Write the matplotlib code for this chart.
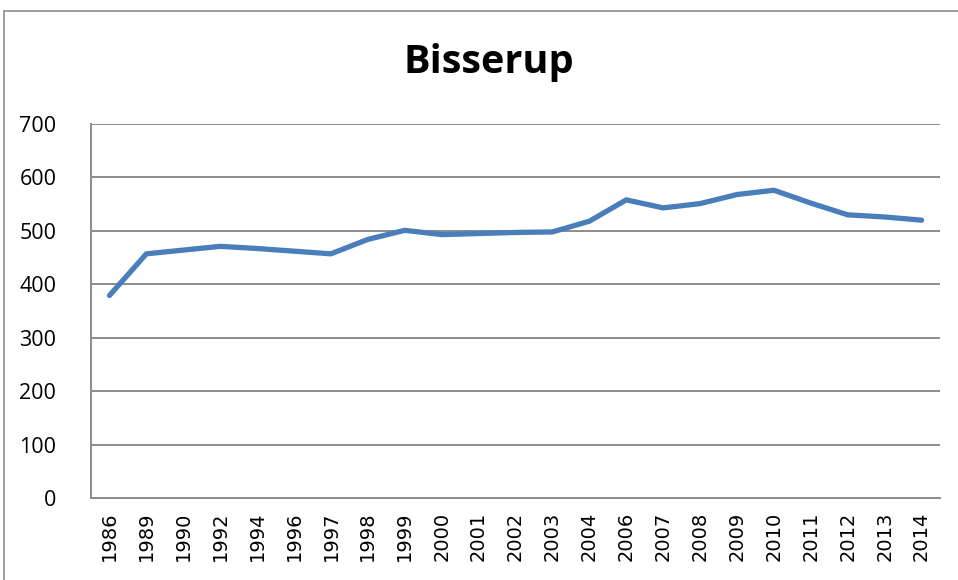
import matplotlib
matplotlib.use("Agg")
import matplotlib.pyplot as plt
from matplotlib.patches import Rectangle

years = ["1986", "1989", "1990", "1992", "1994", "1996", "1997", "1998", "1999",
         "2000", "2001", "2002", "2003", "2004", "2006", "2007", "2008", "2009",
         "2010", "2011", "2012", "2013", "2014"]
values = [379, 457, 464, 471, 467, 462, 457, 484, 501, 493, 495, 497, 498, 518,
          558, 543, 551, 568, 576, 552, 530, 526, 520]
yticks = [0, 100, 200, 300, 400, 500, 600, 700]
title = "Bisserup"

W, H = 958, 580
fig = plt.figure(figsize=(W / 100, H / 100), dpi=100)
fig.patch.set_facecolor("white")

# outer chart border
fig.patches.append(Rectangle((4 / W, -0.1), 1.2, 1 - 11 / H + 0.1,
                             transform=fig.transFigure, fill=False,
                             edgecolor="#8c8c8c", linewidth=1.2))

ax = fig.add_axes([91 / W, 1 - 498 / H, (940 - 91) / W, (498 - 124) / H])
x = list(range(len(years)))
ax.plot(x, values, color="#4A7EBB", linewidth=3.8, solid_capstyle="round",
        solid_joinstyle="round", zorder=3)

ax.set_xlim(-0.5, len(years) - 0.5)
ax.set_ylim(0, 700)
ax.set_yticks(yticks)
ax.set_yticklabels([str(v) for v in yticks], fontsize=15.5,
                   family=["Open Sans", "DejaVu Sans"])
ax.set_xticks(x)
ax.set_xticklabels(years, rotation=90, fontsize=14, family="DejaVu Sans")
ax.tick_params(axis="both", length=0)
ax.tick_params(axis="y", pad=25)
ax.tick_params(axis="x", pad=10)
ax.grid(axis="y", color="#8c8c8c", linewidth=1.4, zorder=1)
for s in ["top", "right"]:
    ax.spines[s].set_visible(False)
for s in ["left", "bottom"]:
    ax.spines[s].set_color("#8c8c8c")
    ax.spines[s].set_linewidth(1.4)

fig.text(489 / W, 1 - 62 / H, title, ha="center", va="center", fontsize=28.5,
         fontweight="bold", family=["Open Sans", "DejaVu Sans"])

fig.savefig("out.png", dpi=100)
